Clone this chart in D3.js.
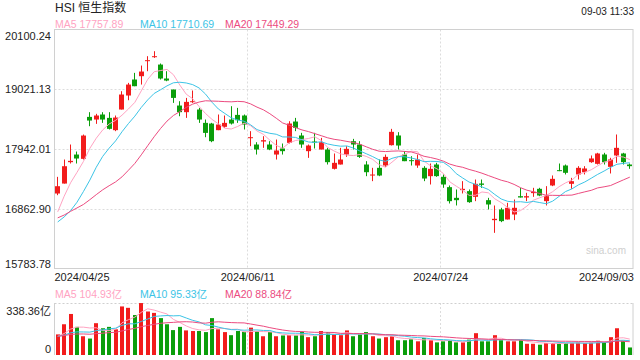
<!DOCTYPE html>
<html>
<head>
<meta charset="utf-8">
<script src="https://cdn.jsdelivr.net/npm/d3@7"></script>
<style>
  body { margin: 0; background: #fff; }
  text { font-family: "Liberation Sans", Arial, "Noto Sans CJK SC", sans-serif; }
</style>
</head>
<body>
<svg id="chart" width="640" height="360"></svg>
<script>
// daily HSI candles, 2024/04/25 .. 2024/09/03
const dates = [
  '2024/04/25','2024/04/26','2024/04/29','2024/04/30',
  '2024/05/02','2024/05/03','2024/05/06','2024/05/07','2024/05/08','2024/05/09','2024/05/10',
  '2024/05/13','2024/05/14','2024/05/16','2024/05/17','2024/05/20','2024/05/21','2024/05/22',
  '2024/05/23','2024/05/24','2024/05/27','2024/05/28','2024/05/29','2024/05/30','2024/05/31',
  '2024/06/03','2024/06/04','2024/06/05','2024/06/06','2024/06/07','2024/06/11','2024/06/12',
  '2024/06/13','2024/06/14','2024/06/17','2024/06/18','2024/06/19','2024/06/20','2024/06/21',
  '2024/06/24','2024/06/25','2024/06/26','2024/06/27','2024/06/28',
  '2024/07/02','2024/07/03','2024/07/04','2024/07/05','2024/07/08','2024/07/09','2024/07/10',
  '2024/07/11','2024/07/12','2024/07/15','2024/07/16','2024/07/17','2024/07/18','2024/07/19',
  '2024/07/22','2024/07/23','2024/07/24','2024/07/25','2024/07/26','2024/07/29','2024/07/30',
  '2024/07/31','2024/08/01','2024/08/02','2024/08/05','2024/08/06','2024/08/07','2024/08/08',
  '2024/08/09','2024/08/12','2024/08/13','2024/08/14','2024/08/15','2024/08/16','2024/08/19',
  '2024/08/20','2024/08/21','2024/08/22','2024/08/23','2024/08/26','2024/08/27','2024/08/28',
  '2024/08/29','2024/08/30','2024/09/02','2024/09/03'
];
const opens = [
  17138,17318,17704,17842,17764,18522,18474,18565,18504,18282,18655,18908,19197,19257,19528,
  19600,19467,19215,19016,18727,18607,18787,18655,18414,18402,18282,18342,18474,18558,18547,
  18137,18023,18077,18023,17842,17951,18053,18438,18186,17903,18077,17933,17933,17584,17662,
  17842,18083,18023,17662,17463,17602,17644,18011,18186,17842,17740,17644,17602,17451,17662,
  17440,17253,17060,17199,17181,17078,17319,17018,16657,16850,16669,16759,17090,17066,17145,
  17223,17000,17283,17560,17644,17313,17482,17524,17704,17674,17843,17620,17825,17861,17662
];
const highs = [
  17439,17752,18023,17896,18203,18607,18577,18607,18607,18547,18986,19136,19317,19449,19618,
  19708,19486,19347,19016,18805,18865,18998,18685,18474,18414,18565,18547,18715,18685,18565,
  18264,18065,18173,18083,18113,18041,18444,18504,18234,18023,18234,18143,17963,17861,17963,
  17993,18125,18083,17722,17602,17752,17842,18306,18246,17903,17812,17842,17632,17680,17692,
  17482,17283,17211,17361,17211,17391,17391,17060,16922,16880,16970,17030,17241,17151,17241,
  17241,17271,17464,17680,17662,17421,17632,17632,17825,17873,17873,17783,18204,17873,17680
];
const lows = [
  17108,17318,17680,17680,17752,18354,18396,18414,18294,18264,18655,18823,19076,19106,19347,
  19588,19197,19166,18775,18534,18504,18775,18414,18155,18065,18282,18324,18384,18414,18294,
  17993,17842,17963,17921,17752,17842,18041,18264,17963,17782,17951,17933,17662,17572,17662,
  17800,17933,17782,17451,17361,17451,17620,18005,17933,17722,17644,17602,17361,17301,17440,
  17241,16958,16922,17139,16970,17000,17241,16850,16428,16621,16669,16657,17066,17000,17078,
  17090,16922,17271,17542,17482,17223,17391,17482,17692,17662,17662,17500,17692,17662,17584
];
const closes = [
  17270,17631,17728,17770,18185,18456,18547,18474,18306,18510,18926,19106,19076,19341,19546,
  19618,19215,19178,18865,18607,18793,18805,18474,18233,18083,18384,18414,18402,18462,18384,
  18155,17933,18101,17933,17915,17903,18402,18324,18023,18005,18059,18065,17704,17692,17752,
  17945,18023,17800,17523,17481,17463,17800,18252,18005,17722,17728,17752,17409,17584,17452,
  17301,17000,17018,17223,16982,17313,17295,16940,16681,16639,16880,16880,17066,17090,17169,
  17102,17090,17403,17542,17512,17361,17602,17590,17771,17861,17704,17753,17963,17704,17632
];
// turnover, 亿
const volumes = [
  134,200,267,183,122,107,207,174,183,167,316,307,260,338,283,274,240,200,162,183,
  160,156,156,149,240,167,149,129,156,151,178,156,122,149,122,127,129,127,151,116,
  122,156,149,134,129,160,122,134,149,122,107,116,122,96,96,102,89,111,96,82,
  89,96,82,82,100,142,89,89,129,96,89,89,96,73,73,67,78,78,78,78,
  78,82,78,82,93,85,116,174,93,49
];
// sessions before the window, estimated so the MA lines start where the reference's do
const priorClose = [16618,16392,16541,16931,16725,16724,16733,16828,17139,17095,16721,16600,16248,16252,16386,16224,16512,16829,17201];
const priorVolume = [128,115,131,120,142,126,118,110,124,137,119,112,121,129,116,113,122,118,123];

const yTicks = [20100.24, 19021.13, 17942.01, 16862.90, 15783.78];
const volMax = 338.36;
const dateTicks = ['2024/04/25', '2024/06/11', '2024/07/24', '2024/09/03'];
const maNames = ['MA5', 'MA10', 'MA20'];
const maPeriods = [5, 10, 20];
const maColors = ['#ffa3c2', '#3cc4e6', '#ec4b80'];
const maPriceText = ['17757.89', '17710.69', '17449.29'];
const maVolText = ['104.93亿', '95.33亿', '88.84亿'];

const RED = '#f21c1c', GREEN = '#0b9e0b';

const svg = d3.select('#chart');
const plotLeft = 54.5, plotRight = 633;
const plotTop = 29.5, plotBottom = 268.5;
const vTop = 303, vBottom = 355;

const x = d3.scaleBand().domain(d3.range(dates.length)).range([plotLeft, plotRight])
  .paddingInner(0.22).paddingOuter(0.11);
const step = x.step();
const cx = i => x(i) + x.bandwidth() / 2;
const slotStart = i => x(i) - step * x.paddingInner() / 2;

const y = d3.scaleLinear().domain([yTicks[4], yTicks[0]]).range([plotBottom, plotTop]);
const yv = d3.scaleLinear().domain([0, volMax]).range([vBottom, vTop]);

const movingAvg = (prior, values, n) => {
  const all = prior.concat(values);
  return values.map((v, i) => d3.mean(all.slice(prior.length + i - n + 1, prior.length + i + 1)));
};

// ---- frame and grid
const grid = svg.append('g').attr('stroke', '#dcdcdc').attr('stroke-dasharray', '2,2');
yTicks.slice(1, 4).forEach(t => {
  grid.append('line').attr('x1', plotLeft).attr('x2', plotRight)
    .attr('y1', Math.round(y(t)) + 0.5).attr('y2', Math.round(y(t)) + 0.5);
});
dateTicks.slice(1, 3).forEach(d => {
  const gx = Math.round(slotStart(dates.indexOf(d))) + 0.5;
  grid.append('line').attr('x1', gx).attr('x2', gx).attr('y1', plotTop).attr('y2', plotBottom);
  grid.append('line').attr('x1', gx).attr('x2', gx).attr('y1', vTop).attr('y2', vBottom);
});
svg.append('line').attr('x1', plotLeft).attr('x2', plotRight).attr('y1', vTop + 0.5).attr('y2', vTop + 0.5)
  .attr('stroke', '#cfcfcf').attr('stroke-dasharray', '2,2');

svg.append('rect').attr('x', plotLeft).attr('y', plotTop)
  .attr('width', plotRight - plotLeft).attr('height', plotBottom - plotTop)
  .attr('fill', 'none').attr('stroke', '#d0d0d0');
[plotLeft, plotRight].forEach(lx => {
  svg.append('line').attr('x1', lx).attr('x2', lx).attr('y1', vTop).attr('y2', vBottom)
    .attr('stroke', '#d0d0d0');
});

svg.append('text').attr('x', 626).attr('y', 250).attr('text-anchor', 'end')
  .attr('dominant-baseline', 'central').attr('font-size', 10).attr('fill', '#cfcfcf').text('sina.com');

// ---- candles
const candles = svg.append('g');
dates.forEach((d, i) => {
  const up = closes[i] >= opens[i];
  const col = up ? RED : GREEN;
  const bx = Math.round(cx(i) - 2.5);
  const wx = bx + 2.5;
  candles.append('line').attr('x1', wx).attr('x2', wx)
    .attr('y1', y(highs[i])).attr('y2', y(lows[i])).attr('stroke', col);
  const y0 = y(Math.max(opens[i], closes[i]));
  const y1 = y(Math.min(opens[i], closes[i]));
  candles.append('rect').attr('x', bx).attr('width', 5)
    .attr('y', y0).attr('height', Math.max(1, y1 - y0)).attr('fill', col);
});

// ---- price MAs
const line = d3.line().x((d, i) => cx(i)).y(d => y(d));
maPeriods.forEach((n, k) => {
  svg.append('path').datum(movingAvg(priorClose, closes, n))
    .attr('d', line).attr('fill', 'none').attr('stroke', maColors[k]).attr('stroke-width', 1);
});

// ---- volume
const vols = svg.append('g');
dates.forEach((d, i) => {
  vols.append('rect').attr('x', Math.round(cx(i)) - 2).attr('width', 4)
    .attr('y', yv(volumes[i])).attr('height', yv(0) - yv(volumes[i]))
    .attr('fill', closes[i] >= opens[i] ? RED : GREEN);
});
const vline = d3.line().x((d, i) => cx(i)).y(d => yv(d));
maPeriods.forEach((n, k) => {
  svg.append('path').datum(movingAvg(priorVolume, volumes, n))
    .attr('d', vline).attr('fill', 'none').attr('stroke', maColors[k]).attr('stroke-width', 1);
});

// ---- axis labels
const ylab = svg.append('g').attr('font-size', 11).attr('fill', '#222').attr('text-anchor', 'end');
yTicks.forEach((t, k) => {
  let ty = y(t);
  if (k === 0) ty += 6;
  if (k === yTicks.length - 1) ty -= 5;
  ylab.append('text').attr('x', 51).attr('y', ty).attr('dominant-baseline', 'central')
    .text(t.toFixed(2));
});
ylab.append('text').attr('x', 51).attr('y', vTop + 7.5).attr('dominant-baseline', 'central').text(volMax.toFixed(2) + '亿');
ylab.append('text').attr('x', 51).attr('y', vBottom - 6).attr('dominant-baseline', 'central').text('0');

const xlab = svg.append('g').attr('font-size', 11).attr('fill', '#222');
dateTicks.forEach((d, k) => {
  const t = xlab.append('text').attr('y', 277).attr('dominant-baseline', 'central').text(d);
  if (k === 0) t.attr('x', plotLeft).attr('text-anchor', 'start');
  else if (k === dateTicks.length - 1) t.attr('x', plotRight + 1).attr('text-anchor', 'end');
  else t.attr('x', slotStart(dates.indexOf(d)) + 0.5).attr('text-anchor', 'middle');
});

// ---- titles and legends
svg.append('text').attr('x', 55).attr('y', 8).attr('dominant-baseline', 'central')
  .attr('font-size', 12).attr('fill', '#222').text('HSI 恒生指数');
svg.append('text').attr('x', 634).attr('y', 11.5).attr('text-anchor', 'end').attr('dominant-baseline', 'central')
  .attr('font-size', 10).attr('fill', '#222').text('09-03 11:33');

const legendX = [55, 140, 225];
maNames.forEach((name, k) => {
  svg.append('text').attr('x', legendX[k]).attr('y', 24).attr('dominant-baseline', 'central')
    .attr('font-size', 10.5).attr('fill', maColors[k]).text(name + ' ' + maPriceText[k]);
  svg.append('text').attr('x', legendX[k]).attr('y', 294).attr('dominant-baseline', 'central')
    .attr('font-size', 10.5).attr('fill', maColors[k]).text(name + ' ' + maVolText[k]);
});
</script>
</body>
</html>
